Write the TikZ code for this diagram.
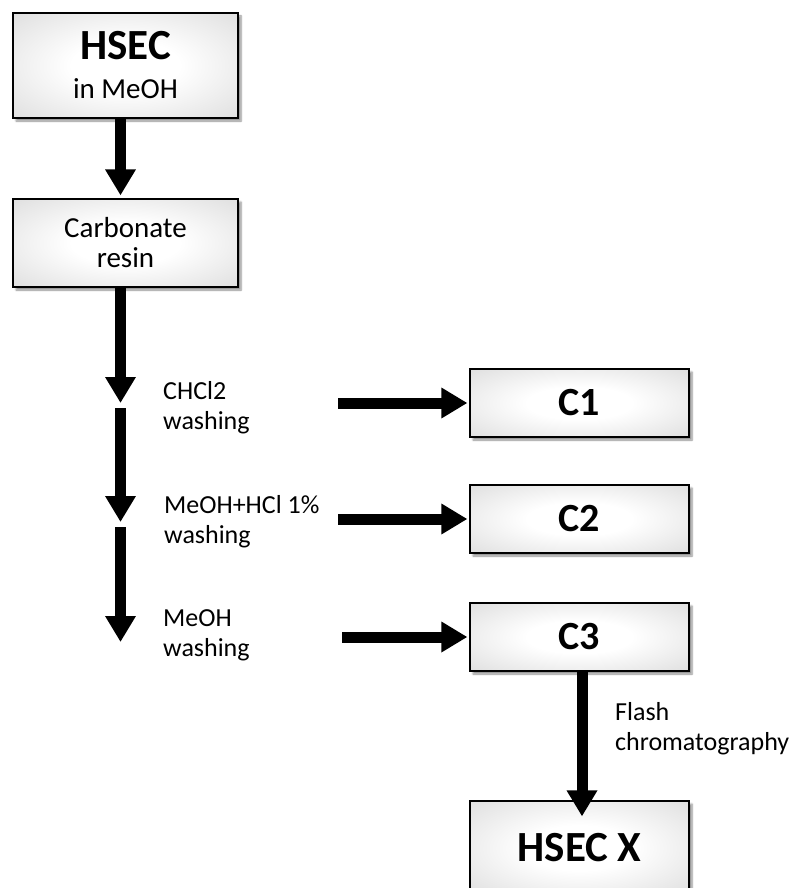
\documentclass[tikz,border=0pt]{standalone}
\usepackage{fontspec}
\setmainfont{Carlito}
\usetikzlibrary{arrows.meta,shadows.blur}

% soft white-centred fill for the process boxes
\pgfdeclareradialshading{boxglow}{\pgfpoint{0bp}{0bp}}{%
  color(0bp)=(white); color(12bp)=(white); color(50bp)=(black!20); color(72bp)=(black!28)}

\tikzset{
  procbox/.style={draw=black, line width=1.2pt, shading=boxglow, inner sep=0pt,
    blur shadow={shadow xshift=3pt, shadow yshift=-3pt, shadow blur steps=6, shadow opacity=45},
    align=center},
  flow/.style={line width=11pt, -{Triangle[width=29pt,length=26pt]}},
  steplabel/.style={anchor=west, align=left, inner sep=0pt,
    font=\fontsize{26}{30}\selectfont},
  fraction/.style={procbox, minimum width=219pt, minimum height=68pt,
    font=\bfseries\fontsize{40}{44}\selectfont},
}

\begin{document}
\begin{tikzpicture}[x=1pt, y=-1pt]
\useasboundingbox (0,0) rectangle (788,888);
\begin{scope}
\clip (0,0) rectangle (788,888);

% left column
\node[procbox, minimum width=225pt, minimum height=105pt,
  font=\fontsize{29}{39}\selectfont] (hsec) at (125.5,65.5)
  {{\bfseries\fontsize{43}{39}\selectfont HSEC}\\in MeOH};
\node[procbox, minimum width=225pt, minimum height=88pt,
  font=\fontsize{29}{30}\selectfont] (carb) at (125.5,243) {Carbonate\\resin};

% fractions
\node[fraction] (c1) at (579.5,403) {C1};
\node[fraction] (c2) at (579.5,519) {C2};
\node[fraction] (c3) at (579.5,637) {C3};
\node[procbox, minimum width=219pt, minimum height=94pt,
  font=\bfseries\fontsize{43}{44}\selectfont] (hx) at (579.5,848) {HSEC X};

% washing column
\coordinate (v1) at (120.5,403);
\coordinate (v2) at (120.5,408);
\coordinate (v3) at (120.5,522);
\coordinate (v4) at (120.5,527);
\coordinate (v5) at (120.5,642);

\draw[flow] (hsec.south -| v1) -- ([yshift=3pt]carb.north -| v1);
\draw[flow] (carb.south -| v1) -- (v1);
\draw[flow] (v2) -- (v3);
\draw[flow] (v4) -- (v5);

% step labels
\node[steplabel] (l1) at (163,408) {CHCl2\\washing};
\node[steplabel] (l2) at (164,522) {MeOH+HCl 1\%\\washing};
\node[steplabel] (l3) at (163,635) {MeOH\\washing};
\node[steplabel] (l4) at (615,729) {Flash\\chromatography};

% feeds into the fractions
\coordinate (h1) at (338,403);
\coordinate (h2) at (338,519);
\coordinate (h3) at (342,637);
\draw[flow] (h1) -- ([xshift=-2pt]c1.west);
\draw[flow] (h2) -- ([xshift=-2pt]c2.west);
\draw[flow] (h3) -- ([xshift=-2pt]c3.west);

\draw[flow] (c3.south -| 582,0) -- ([yshift=-16pt]hx.north -| 582,0);
\end{scope}
\end{tikzpicture}
\end{document}
